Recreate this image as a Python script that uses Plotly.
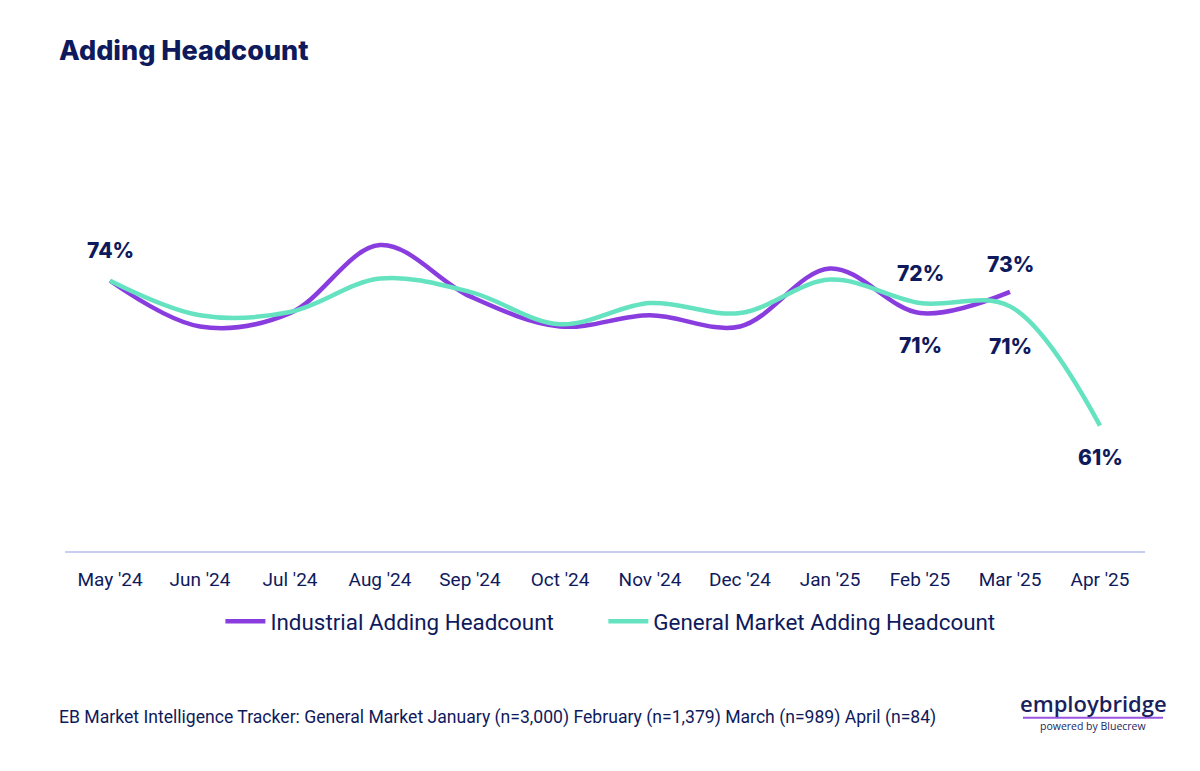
import plotly.graph_objects as go

months = ["May '24", "Jun '24", "Jul '24", "Aug '24", "Sep '24", "Oct '24",
          "Nov '24", "Dec '24", "Jan '25", "Feb '25", "Mar '25", "Apr '25"]
industrial = [74.0, 69.9, 71.1, 77.2, 72.6, 69.9, 70.9, 69.9, 75.1, 71.1, 73.0]
general = [74.0, 70.9, 71.2, 74.2, 73.0, 70.1, 72.0, 71.1, 74.1, 72.0, 71.7, 61.0]
series_names = ["Industrial Adding Headcount", "General Market Adding Headcount"]

# data labels: (series, month index, text, pixel shift)
label_series = ["general", "general", "industrial", "industrial", "general", "general"]
label_index = [0, 9, 9, 10, 10, 11]
label_text = ["74%", "72%", "71%", "73%", "71%", "61%"]
label_shift = [30, 30, -32, 27, -40, -32]

NAVY = "#0f1a5c"
PURPLE = "#8a3ddf"
GREEN = "#65e3c1"

fig = go.Figure()
fig.add_trace(go.Scatter(x=months[:len(industrial)], y=industrial, mode="lines",
                         name=series_names[0] + "\u00a0" * 8,
                         line=dict(color=PURPLE, width=4.5, shape="spline", smoothing=1.0)))
fig.add_trace(go.Scatter(x=months, y=general, mode="lines",
                         name=series_names[1],
                         line=dict(color=GREEN, width=4.5, shape="spline", smoothing=1.0)))

series = {"industrial": industrial, "general": general}
for s, i, t, sh in zip(label_series, label_index, label_text, label_shift):
    fig.add_annotation(x=months[i], y=series[s][i], xref="x", yref="y", text=t,
                       showarrow=False, yshift=sh,
                       font=dict(family="Inter", size=21, color=NAVY, weight=800))

fig.update_layout(
    width=1200, height=771,
    margin=dict(l=65, r=55, t=100, b=220),
    paper_bgcolor="white", plot_bgcolor="white",
    showlegend=True,
    legend=dict(orientation="h", x=0.505, xanchor="center", y=-0.157, yanchor="middle",
                font=dict(family="Roboto", size=22.4, color=NAVY), itemwidth=40,
                traceorder="normal"),
    xaxis=dict(type="category", range=[-0.5, 11.5], showgrid=False, zeroline=False,
               showline=True, linecolor="#c8cff2", linewidth=1.5, ticks="",
               ticklabelstandoff=10,
               tickfont=dict(family="Roboto", size=19, color=NAVY)),
    yaxis=dict(range=[49.76, 90.21], visible=False, showgrid=False, zeroline=False),
)

fig.add_annotation(text="Adding Headcount", xref="paper", yref="paper",
                   x=-0.0074, y=1.0, yshift=50, xanchor="left", yanchor="middle",
                   showarrow=False, font=dict(family="Inter", size=27, color=NAVY, weight=800))

fig.add_annotation(text="EB Market Intelligence Tracker: General Market January (n=3,000) February (n=1,379) March (n=989) April (n=84)",
                   xref="paper", yref="paper", x=-0.0074, y=0, yshift=-166,
                   xanchor="left", yanchor="middle", showarrow=False,
                   font=dict(family="Roboto", size=17.6, color=NAVY))

# logo
fig.add_annotation(text="employbridge", xref="paper", yref="paper",
                   x=1.0, y=0, xshift=-52, yshift=-152, xanchor="center", yanchor="middle",
                   showarrow=False, font=dict(family="Open Sans", size=22, color="#1b1f5e", weight=600))
fig.add_shape(type="line", xref="paper", yref="paper", x0=0.887, x1=1.0167,
              y0=-0.370, y1=-0.370, line=dict(color="#9a55e0", width=2))
fig.add_annotation(text="powered by Bluecrew", xref="paper", yref="paper",
                   x=1.0, y=0, xshift=-52, yshift=-175, xanchor="center", yanchor="middle",
                   showarrow=False, font=dict(family="Open Sans", size=10.5, color="#1b1f5e"))

fig.write_html("out.html")
